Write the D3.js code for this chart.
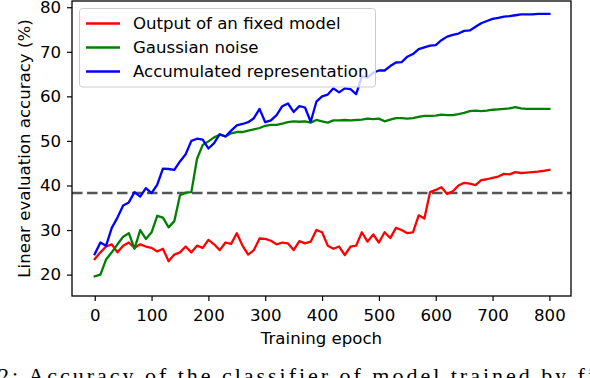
<!DOCTYPE html>
<html>
<head>
<meta charset="utf-8">
<script src="https://cdn.jsdelivr.net/npm/d3@7"></script>
<style>
  html, body { margin: 0; padding: 0; background: #fff; }
  svg { display: block; }
  text { font-family: "DejaVu Sans", sans-serif; }
</style>
</head>
<body>
<svg id="chart" width="590" height="378"></svg>
<script>
const epochs = [0,10,20,30,40,50,60,70,80,90,100,110,120,130,140,150,160,170,180,190,
  200,210,220,230,240,250,260,270,280,290,300,310,320,330,340,350,360,370,380,390,
  400,410,420,430,440,450,460,470,480,490,500,510,520,530,540,550,560,570,580,590,
  600,610,620,630,640,650,660,670,680,690,700,710,720,730,740,750,760,770,780,790,800];

const fixedModel = [23.5,25.0,26.3,26.8,25.0,26.5,27.2,26.0,26.8,26.3,
  26.0,25.2,25.8,23.0,24.5,25.0,26.3,25.0,26.5,26.0,
  27.8,26.8,25.5,27.2,26.9,29.3,26.5,24.5,25.5,28.1,
  28.0,27.6,26.8,27.2,27.0,25.5,27.5,27.0,27.4,30.0,
  29.5,26.5,25.8,26.3,24.4,26.3,26.5,29.5,27.4,29.0,
  27.2,29.5,28.2,30.5,30.0,29.3,29.5,33.3,32.6,38.5,
  39.0,39.6,38.1,38.7,40.0,40.6,40.4,40.1,41.2,41.4,
  41.7,42.0,42.6,42.5,43.0,42.8,42.9,43.0,43.1,43.3,43.5];

const gaussianNoise = [19.6,20.0,23.4,25.0,26.8,28.5,29.3,25.8,30.0,28.0,
  29.5,33.2,32.8,30.6,32.0,37.8,38.4,38.5,46.0,49.1,
  49.9,50.8,51.4,51.0,51.7,52.0,52.0,52.3,52.6,52.9,
  53.4,53.6,53.6,53.9,54.2,54.4,54.3,54.4,54.1,54.7,
  54.4,54.1,54.6,54.6,54.7,54.6,54.7,54.8,55.0,54.9,
  55.0,54.4,54.8,55.1,55.1,55.0,55.1,55.4,55.6,55.6,
  55.7,55.9,55.8,55.8,56.0,56.3,56.7,56.8,56.7,56.8,
  57.0,57.1,57.2,57.3,57.6,57.3,57.2,57.2,57.2,57.2,57.2];

const accumulated = [24.6,27.2,26.5,30.5,32.8,35.5,36.2,38.5,37.5,39.4,
  38.3,40.2,43.8,43.7,43.5,45.4,47.0,50.0,50.5,50.3,
  48.3,49.5,51.5,51.0,52.3,53.5,53.8,54.2,55.1,57.2,
  54.2,54.6,55.8,57.8,58.4,56.5,57.8,57.5,54.3,58.8,
  60.0,60.4,61.8,60.9,61.8,61.6,60.5,64.5,64.2,65.3,
  65.8,65.8,66.8,67.6,67.7,68.9,69.5,70.6,71.0,71.4,
  71.5,72.6,73.4,73.8,74.1,74.7,74.8,75.6,76.4,76.9,
  77.4,77.6,77.9,78.0,78.2,78.4,78.4,78.4,78.5,78.5,78.5];

const seriesNames = ["Output of an fixed model", "Gaussian noise", "Accumulated representation"];
const seriesColors = ["#ff0000", "#008000", "#0000ff"];
const baselineValue = 38.3;
const xTicks = [0,100,200,300,400,500,600,700,800];
const yTicks = [20,30,40,50,60,70,80];
const xLabel = "Training epoch";
const yLabel = "Linear evaluation accuracy (%)";
const captionText = "2: Accuracy of the classifier of model trained by fi";

const FS = "16.6px";
const svg = d3.select("#chart");
const L = 72, R = 571, T = 1, B = 296;

const x = d3.scaleLinear().domain([-40, 838]).range([L, R]);
const y = d3.scaleLinear().domain([15.2, 81.4]).range([B, T]);

const plot = svg.append("g");
plot.append("clipPath").attr("id", "clip")
  .append("rect").attr("x", L).attr("y", T).attr("width", R - L).attr("height", B - T);

const allSeries = [fixedModel, gaussianNoise, accumulated];
const line = d3.line().x((d, i) => x(epochs[i])).y(d => y(d));

const lines = plot.append("g").attr("clip-path", "url(#clip)");
lines.append("line")
  .attr("x1", L).attr("x2", R)
  .attr("y1", y(baselineValue)).attr("y2", y(baselineValue))
  .attr("stroke", "#555555").attr("stroke-width", 2.4)
  .attr("stroke-dasharray", "10.5,4.5");

allSeries.forEach((s, k) => {
  lines.append("path")
    .datum(s)
    .attr("d", line)
    .attr("fill", "none")
    .attr("stroke", seriesColors[k])
    .attr("stroke-width", 2.3)
    .attr("stroke-linejoin", "round")
    .attr("stroke-linecap", "square");
});

// axes
const xAxis = d3.axisBottom(x).tickValues(xTicks).tickSize(5).tickPadding(8).tickFormat(d3.format("d"));
const yAxis = d3.axisLeft(y).tickValues(yTicks).tickSize(5).tickPadding(6).tickFormat(d3.format("d"));

const gx = svg.append("g").attr("transform", `translate(0,${B})`).call(xAxis);
const gy = svg.append("g").attr("transform", `translate(${L},0)`).call(yAxis);
[gx, gy].forEach(g => {
  g.select(".domain").remove();
  g.selectAll(".tick line").attr("stroke", "#000").attr("stroke-width", 1.2);
  g.selectAll(".tick text").attr("fill", "#000").style("font-size", FS)
    .style("font-family", "'DejaVu Sans', sans-serif");
});

// frame
svg.append("rect").attr("x", L).attr("y", T).attr("width", R - L).attr("height", B - T)
  .attr("fill", "none").attr("stroke", "#000").attr("stroke-width", 1.3);

// labels
svg.append("text").attr("x", (L + R) / 2).attr("y", 343.5)
  .attr("text-anchor", "middle").style("font-size", FS).attr("fill", "#000").text(xLabel);
svg.append("text")
  .attr("transform", `translate(30,${(T + B) / 2}) rotate(-90)`)
  .attr("text-anchor", "middle").style("font-size", FS).attr("fill", "#000").text(yLabel);

// legend
const lg = svg.append("g");
lg.append("rect").attr("x", 79.5).attr("y", 8.5).attr("width", 296).attr("height", 78.5)
  .attr("rx", 3).attr("fill", "#fff").attr("fill-opacity", 0.8)
  .attr("stroke", "#cccccc").attr("stroke-width", 1);
seriesNames.forEach((name, k) => {
  const yy = 23.5 + k * 24;
  lg.append("line").attr("x1", 86).attr("x2", 120).attr("y1", yy).attr("y2", yy)
    .attr("stroke", seriesColors[k]).attr("stroke-width", 2.3);
  lg.append("text").attr("x", 133).attr("y", yy).attr("dy", "0.36em")
    .style("font-size", FS).attr("fill", "#000").text(name);
});

// cut-off caption from the source page
svg.append("text").attr("x", -2).attr("y", 383)
  .attr("textLength", 596).attr("lengthAdjust", "spacing")
  .style("font-family", "'Liberation Serif', 'DejaVu Serif', serif")
  .style("font-size", "22px").attr("fill", "#000").text(captionText);
</script>
</body>
</html>
